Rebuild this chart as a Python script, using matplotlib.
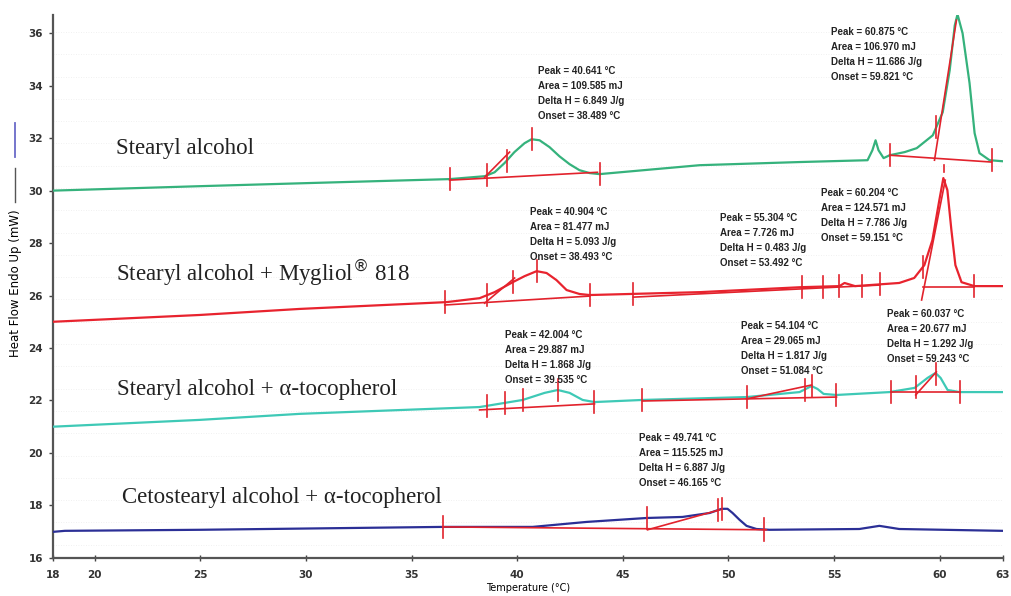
import matplotlib.pyplot as plt
from matplotlib.lines import Line2D
import numpy as np

# DSC traces (temperature in degC, heat flow in mW)
t_sa = [18, 24.97, 30.18, 36.8, 38.46, 38.93, 39.4, 39.87, 40.35, 40.68, 41.06, 41.53,
        42.0, 42.48, 42.95, 43.43, 43.9, 48.64, 53.37, 56.59, 56.82, 56.97, 57.11, 57.35,
        57.64, 58.35, 58.92, 59.68, 60.15, 60.48, 60.72, 60.85, 61.09, 61.42, 61.66,
        61.89, 62.37, 63]
hf_sa = [30.0, 30.17, 30.29, 30.44, 30.55, 30.70, 31.05, 31.47, 31.81, 31.96, 31.92, 31.66,
         31.31, 31.01, 30.78, 30.67, 30.63, 30.97, 31.09, 31.16, 31.54, 31.92, 31.54, 31.24,
         31.35, 31.47, 31.62, 32.11, 32.99, 34.59, 36.30, 36.72, 36.0, 34.10, 32.19,
         31.43, 31.16, 31.12]

t_my = [18, 24.97, 29.7, 36.66, 38.22, 38.93, 39.79, 40.35, 40.92, 41.39, 41.86, 42.34,
        42.95, 43.43, 48.64, 53.47, 55.26, 55.5, 56.0, 58.09, 58.8, 59.28, 59.66, 59.99,
        60.18, 60.37, 60.56, 60.75, 61.04, 61.65, 63]
hf_my = [25.0, 25.26, 25.49, 25.75, 25.90, 26.13, 26.51, 26.74, 26.93, 26.86, 26.59, 26.21,
         26.06, 26.02, 26.13, 26.32, 26.36, 26.48, 26.36, 26.48, 26.67, 27.16, 28.11, 29.64,
         30.48, 30.02, 28.5, 27.16, 26.51, 26.36, 26.36]

t_to = [18, 24.97, 29.7, 38.22, 40.26, 41.3, 41.92, 42.48, 43.1, 43.66, 45.93, 50.86,
        53.37, 53.94, 54.22, 54.51, 55.12, 57.63, 58.82, 59.43, 59.81, 60.05, 60.38, 60.95,
        63]
hf_to = [21.0, 21.26, 21.49, 21.75, 22.02, 22.29, 22.4, 22.29, 22.02, 21.94, 22.02, 22.13,
         22.32, 22.55, 22.44, 22.25, 22.21, 22.32, 22.48, 22.86, 23.05, 22.86, 22.40, 22.32,
         22.32]

t_cs = [18, 18.58, 24.97, 36.47, 40.73, 43.29, 46.13, 47.83, 49.11, 49.68, 49.96, 50.2,
        50.53, 50.86, 51.33, 51.95, 56.2, 57.15, 58.09, 63]
hf_cs = [16.99, 17.03, 17.07, 17.18, 17.18, 17.37, 17.52, 17.56, 17.71, 17.87, 17.87, 17.71,
         17.45, 17.22, 17.10, 17.07, 17.10, 17.22, 17.10, 17.03]

# integration markers (peak limits, onset, peak) from the analysis software
ticks_sa = [36.8, 38.55, 39.5, 40.68, 43.9, 57.64, 59.85, 62.46]
base_sa = [(36.8, 30.40, 43.8, 30.70), (57.64, 31.35, 62.46, 31.09)]
tang_sa = [(38.46, 30.51, 39.64, 31.47), (59.76, 31.16, 60.8, 36.5)]

ticks_my = [36.57, 38.55, 39.79, 40.92, 43.43, 45.5, 53.51, 54.46, 55.26, 56.35, 57.16,
            59.2, 61.65]
base_my = [(36.57, 25.64, 43.43, 25.98), (45.5, 25.94, 57.16, 26.4), (59.2, 26.32, 61.65, 26.32)]
tang_my = [(38.46, 25.71, 39.88, 26.67), (59.15, 25.83, 60.27, 30.4)]

ticks_to = [38.55, 39.4, 40.26, 41.92, 43.62, 45.93, 50.86, 53.61, 53.94, 55.12,
            57.68, 58.87, 59.85, 60.95]
base_to = [(38.22, 21.64, 43.66, 21.87), (45.93, 21.98, 55.12, 22.13), (57.68, 22.32, 60.95, 22.32)]
tang_to = [(50.86, 22.06, 53.94, 22.59), (58.87, 22.21, 59.85, 23.09)]

ticks_cs = [36.47, 46.17, 49.49, 49.68, 51.71]
base_cs = [(36.47, 17.18, 51.8, 17.07)]
tang_cs = [(46.17, 17.07, 49.59, 17.83)]

# peak result boxes: (x, y of first line, lines)
results = [
    (41.0, 34.55, ["Peak = 40.641 °C", "Area = 109.585 mJ", "Delta H = 6.849 J/g", "Onset = 38.489 °C"]),
    (54.84, 36.03, ["Peak = 60.875 °C", "Area = 106.970 mJ", "Delta H = 11.686 J/g", "Onset = 59.821 °C"]),
    (40.6, 29.18, ["Peak = 40.904 °C", "Area = 81.477 mJ", "Delta H = 5.093 J/g", "Onset = 38.493 °C"]),
    (49.6, 28.95, ["Peak = 55.304 °C", "Area = 7.726 mJ", "Delta H = 0.483 J/g", "Onset = 53.492 °C"]),
    (54.4, 29.9, ["Peak = 60.204 °C", "Area = 124.571 mJ", "Delta H = 7.786 J/g", "Onset = 59.151 °C"]),
    (39.4, 24.5, ["Peak = 42.004 °C", "Area = 29.887 mJ", "Delta H = 1.868 J/g", "Onset = 39.535 °C"]),
    (50.6, 24.85, ["Peak = 54.104 °C", "Area = 29.065 mJ", "Delta H = 1.817 J/g", "Onset = 51.084 °C"]),
    (57.5, 25.3, ["Peak = 60.037 °C", "Area = 20.677 mJ", "Delta H = 1.292 J/g", "Onset = 59.243 °C"]),
    (45.75, 20.57, ["Peak = 49.741 °C", "Area = 115.525 mJ", "Delta H = 6.887 J/g", "Onset = 46.165 °C"]),
]

names = ["Stearyl alcohol", "Stearyl alcohol + Mygliol$^{®}$ 818",
         "Stearyl alcohol + α-tocopherol", "Cetostearyl alcohol + α-tocopherol"]
name_y = [31.6, 26.85, 22.4, 18.3]
name_x = [21.0, 21.0, 21.05, 21.3]

xticks = [18, 20, 25, 30, 35, 40, 45, 50, 55, 60, 63]
yticks = [16, 18, 20, 22, 24, 26, 28, 30, 32, 34, 36]

c_green = "#35b27c"
c_red = "#e8232e"
c_cyan = "#3ec9b6"
c_blue = "#2b2f96"
c_mark = "#e2222c"

fig = plt.figure(figsize=(10.11, 5.96), dpi=100)
ax = fig.add_axes([0.052, 0.064, 0.940, 0.911])

for y in np.arange(16.5, 36.7, 0.85):
    ax.axhline(y, color="#ececec", lw=0.6, ls=(0, (1, 2)), zorder=0)

traces = [(t_sa, hf_sa, c_green, ticks_sa, base_sa, tang_sa),
          (t_my, hf_my, c_red, ticks_my, base_my, tang_my),
          (t_to, hf_to, c_cyan, ticks_to, base_to, tang_to),
          (t_cs, hf_cs, c_blue, ticks_cs, base_cs, tang_cs)]

for t, hf, col, tks, bases, tangs in traces:
    ax.plot(t, hf, color=col, lw=1.6, zorder=3)
    for x0, y0, x1, y1 in bases + tangs:
        ax.plot([x0, x1], [y0, y1], color=c_mark, lw=1.2, zorder=4)
    for tx in tks:
        yc = np.interp(tx, t, hf)
        ax.plot([tx, tx], [yc - 0.42, yc + 0.42], color=c_mark, lw=1.2, zorder=4)

# small onset mark under the big stearyl alcohol peak
ax.plot([60.2, 60.2], [30.7, 30.97], color=c_mark, lw=1.2, zorder=4)

for x, y, lines in results:
    for i, s in enumerate(lines):
        ax.text(x, y - i * 0.57, s, fontsize=7.0, family="Liberation Sans",
                fontweight="bold", color="#222222", va="center", ha="left", zorder=5)

for s, x, y in zip(names, name_x, name_y):
    ax.text(x, y, s, fontsize=16.5, family="Liberation Serif", color="#222222",
            va="center", ha="left", zorder=5)

ax.set_xlim(18, 63)
ax.set_ylim(16, 36.7)
ax.set_xticks(xticks)
ax.set_yticks(yticks)
ax.tick_params(labelsize=7.5, length=3, width=1, color="#444444", pad=4)
for lab in ax.get_xticklabels() + ax.get_yticklabels():
    lab.set_fontweight("bold")
    lab.set_color("#333333")
ax.tick_params(axis="x", direction="inout", length=4, pad=7)
for side in ["top", "right"]:
    ax.spines[side].set_visible(False)
for side in ["left", "bottom"]:
    ax.spines[side].set_color("#555555")
    ax.spines[side].set_linewidth(1.6)

ax.set_xlabel("Temperature (°C)", fontsize=7, labelpad=2)
fig.text(0.015, 0.525, "Heat Flow Endo Up (mW)", rotation=90, fontsize=8.5,
         ha="center", va="center")
fig.add_artist(Line2D([0.015, 0.015], [1 - 123 / 596, 1 - 157 / 596], color="#6a6ac8", lw=1.3))
fig.add_artist(Line2D([0.015, 0.015], [1 - 168 / 596, 1 - 202 / 596], color="#555555", lw=1.0))

fig.savefig("out.png", dpi=100)
